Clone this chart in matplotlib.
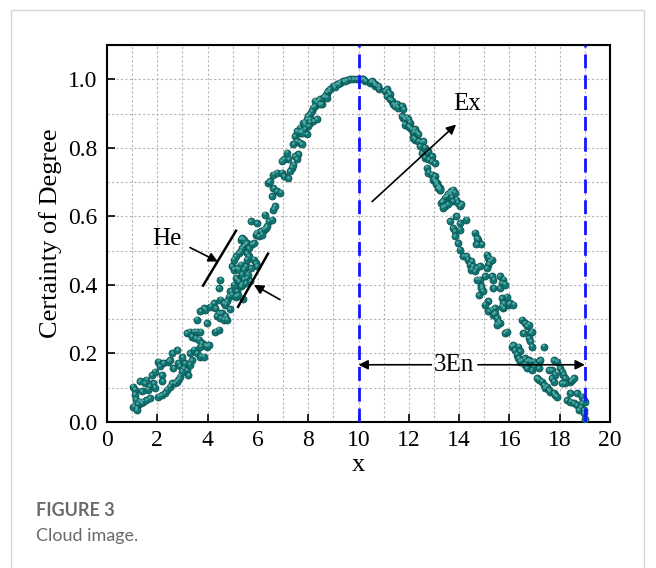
import matplotlib
matplotlib.use("Agg")
import matplotlib.pyplot as plt
from matplotlib.patches import Rectangle
from matplotlib.ticker import MultipleLocator
import numpy as np

# ---- data ----
rising = [
    (1.04,0.103),(1.11,0.094),(1.11,0.080),(1.17,0.040),(1.24,0.050),(1.31,0.059),(1.37,0.055),
    (1.44,0.059),(1.57,0.064),(1.71,0.069),(1.05,0.045),(1.15,0.065),(1.20,0.035),(1.51,0.113),
    (1.57,0.123),(1.71,0.103),(1.64,0.094),(1.77,0.137),(1.91,0.147),(1.84,0.113),(1.40,0.090),
    (2.04,0.074),(2.17,0.079),(2.31,0.084),(2.37,0.094),(2.51,0.103),(2.57,0.113),(2.71,0.113),
    (2.77,0.118),(2.84,0.123),(2.91,0.132),(2.11,0.162),(2.04,0.176),(2.24,0.172),(2.17,0.137),
    (2.44,0.176),(2.51,0.181),(2.64,0.157),(2.84,0.172),(2.91,0.162),(3.04,0.157),(3.17,0.152),
    (3.24,0.137),(2.97,0.147),(3.11,0.172),(3.31,0.167),(3.37,0.181),(3.31,0.201),(3.44,0.211),
    (3.57,0.201),(3.71,0.191),(3.84,0.191),(3.71,0.220),(3.77,0.230),(3.91,0.225),(3.97,0.220),
    (4.04,0.225),(3.17,0.259),(3.31,0.264),(3.44,0.264),(3.57,0.264),(3.71,0.264),(3.37,0.249),
    (3.51,0.245),(3.64,0.240),(3.57,0.298),(3.71,0.323),(3.84,0.332),(3.91,0.328),(3.97,0.289),
    (4.11,0.337),(4.24,0.347),(4.31,0.332),(4.37,0.308),(4.44,0.318),(4.51,0.303),(4.57,0.318),
    (4.64,0.298),(4.71,0.308),(4.77,0.298),(4.31,0.264),(4.44,0.269),(2.60,0.200),(2.80,0.210),
    (3.00,0.190),(1.30,0.120),(1.90,0.100),(2.20,0.120),
    (4.44,0.391),(4.51,0.415),(4.51,0.357),(4.64,0.347),(4.71,0.342),(4.77,0.352),(4.84,0.366),
    (4.91,0.381),(4.97,0.371),(5.11,0.366),(5.17,0.381),(5.04,0.401),(5.11,0.420),(5.17,0.415),
    (5.24,0.410),(5.31,0.396),(5.37,0.401),(5.44,0.415),(5.51,0.405),(5.57,0.420),(5.04,0.444),
    (4.97,0.454),(5.17,0.449),(5.24,0.444),(5.31,0.459),(5.37,0.430),(5.44,0.444),(5.51,0.454),
    (5.57,0.474),(5.64,0.483),(5.04,0.474),(5.11,0.483),(5.24,0.493),(5.31,0.498),(5.37,0.508),
    (5.44,0.513),(5.51,0.518),(5.57,0.522),(5.31,0.532),(5.37,0.537),(5.44,0.532),(5.57,0.493),
    (5.64,0.508),(5.84,0.474),(5.91,0.464),(5.97,0.454),(5.71,0.449),(5.77,0.518),(5.84,0.522),
    (5.91,0.547),(5.97,0.552),(6.04,0.542),(6.11,0.557),(6.24,0.561),(6.31,0.566),(6.37,0.571),
    (6.17,0.547),(5.71,0.586),(5.97,0.581),(6.44,0.586),(5.60,0.430),(5.20,0.370),(4.90,0.330),
    (5.40,0.360),(5.70,0.410),
    (6.29,0.605),(6.56,0.590),(6.62,0.620),(6.69,0.629),(6.56,0.659),(6.62,0.683),(6.75,0.673),
    (6.89,0.669),(6.42,0.698),(6.49,0.703),(6.62,0.722),(6.75,0.727),(6.95,0.727),(7.02,0.717),
    (7.21,0.712),(7.28,0.732),(7.35,0.742),(7.41,0.751),(7.21,0.766),(7.02,0.766),(6.95,0.761),
    (7.15,0.786),(7.48,0.776),(7.55,0.766),(7.61,0.781),(7.41,0.810),(7.48,0.834),(7.55,0.820),
    (7.68,0.815),(7.75,0.810),(7.68,0.844),(7.75,0.849),(7.88,0.854),(7.95,0.839),(8.01,0.864),
    (8.08,0.873),(8.21,0.878),(8.35,0.883),(7.88,0.873),
]

summit = [
    (7.54,0.849),(7.67,0.859),(7.81,0.873),(7.87,0.868),(7.94,0.883),(8.00,0.893),(8.07,0.898),
    (8.14,0.907),(8.20,0.917),(8.27,0.922),(8.34,0.932),(8.40,0.937),(8.47,0.942),(8.54,0.927),
    (8.60,0.946),(8.67,0.951),(8.74,0.961),(8.80,0.966),(8.87,0.971),(9.00,0.981),(9.14,0.985),
    (9.27,0.990),(9.40,0.995),(9.54,0.998),(9.67,1.000),(9.80,1.000),(9.93,1.000),(10.00,1.000),
    (10.14,1.000),(10.27,0.995),(10.47,0.990),(10.67,0.981),(10.80,0.971),(8.27,0.937),
    (8.47,0.927),(8.74,0.946),(8.07,0.883),(7.74,0.844),(9.07,0.976),(9.20,0.985),(9.47,0.995),
    (10.19,1.000),(10.52,0.995),(10.59,0.990),(10.65,0.985),(10.79,0.980),
]

falling = [
    (11.05,0.966),(11.12,0.971),(11.19,0.961),(11.25,0.956),(11.12,0.951),(11.25,0.942),
    (11.32,0.937),(11.39,0.927),(11.45,0.922),(11.52,0.927),(11.58,0.917),(11.72,0.922),
    (11.78,0.912),(11.72,0.893),(11.78,0.888),(11.85,0.883),(11.92,0.888),(11.98,0.883),
    (12.05,0.873),(11.85,0.868),(11.98,0.863),(12.05,0.859),(12.12,0.854),(12.18,0.844),
    (12.25,0.854),(12.32,0.844),(12.38,0.839),(12.18,0.829),(12.25,0.824),(12.38,0.820),
    (12.52,0.815),(12.58,0.820),(12.45,0.805),(12.52,0.785),(12.65,0.800),(12.72,0.785),
    (12.78,0.790),(12.65,0.771),(12.78,0.766),(12.92,0.776),(12.92,0.761),(13.05,0.756),
    (12.72,0.742),(12.78,0.727),(12.92,0.722),(13.05,0.717),(12.98,0.707),(13.12,0.698),
    (13.18,0.688),(13.25,0.683),(13.25,0.678),(13.52,0.659),(13.65,0.663),
    (13.03,0.703),(13.10,0.693),(13.16,0.683),(13.23,0.678),(13.30,0.640),(13.36,0.645),
    (13.43,0.654),(13.50,0.659),(13.56,0.664),(13.63,0.669),(13.69,0.674),(13.76,0.678),
    (13.83,0.669),(13.69,0.654),(13.76,0.645),(13.89,0.649),(13.96,0.640),(14.03,0.630),
    (14.09,0.635),(13.43,0.630),(13.56,0.635),(13.36,0.625),(13.63,0.586),(13.89,0.601),
    (14.03,0.581),(14.29,0.590),(13.76,0.566),(13.83,0.557),(14.03,0.561),(13.83,0.542),
    (13.96,0.522),(14.03,0.503),(14.63,0.552),(14.76,0.532),(14.89,0.518),(14.69,0.518),
    (14.70,0.537),(14.17,0.483),(14.29,0.483),(14.36,0.474),(14.49,0.469),(14.43,0.459),
    (14.56,0.454),(14.49,0.444),(14.63,0.440),(14.69,0.449),(14.83,0.454),(15.09,0.488),
    (15.16,0.479),(15.23,0.469),(15.29,0.474),(15.16,0.459),(15.09,0.449),(15.03,0.425),
    (14.83,0.415),(14.89,0.396),(14.96,0.381),(14.89,0.391),(15.29,0.425),(15.36,0.415),
    (15.36,0.391),(15.63,0.425),(15.76,0.415),(15.69,0.405),(15.63,0.391),(15.83,0.401),
    (15.16,0.352),(15.69,0.362),(15.89,0.366),(15.96,0.342),(15.43,0.332),(15.76,0.332),
    (14.70,0.415),(14.80,0.370),
    (15.03,0.342),(15.16,0.323),(15.29,0.328),(15.36,0.313),(15.43,0.318),(15.49,0.303),
    (15.56,0.293),(15.63,0.289),(15.49,0.284),(15.69,0.337),(15.76,0.347),(16.03,0.347),
    (16.16,0.342),(15.83,0.259),(15.89,0.264),(16.49,0.298),(16.63,0.289),(16.69,0.279),
    (16.76,0.284),(16.56,0.259),(16.83,0.259),(16.89,0.264),(16.76,0.245),(16.83,0.235),
    (16.89,0.220),(17.36,0.220),(16.10,0.220),(16.16,0.225),(16.23,0.210),(16.36,0.220),
    (16.43,0.206),(16.29,0.196),(16.36,0.186),(16.43,0.176),(16.49,0.181),(16.63,0.186),
    (16.69,0.176),(16.76,0.181),(16.83,0.176),(16.96,0.176),(17.03,0.167),(17.16,0.176),
    (17.23,0.181),(16.63,0.167),(16.69,0.157),(16.89,0.152),(16.96,0.162),(17.16,0.157),
    (17.09,0.128),(17.16,0.123),(17.29,0.118),(17.36,0.108),(17.42,0.098),(17.49,0.103),
    (17.56,0.093),(17.62,0.088),(17.76,0.084),(17.82,0.079),(17.89,0.074),(17.69,0.128),
    (17.76,0.118),(17.82,0.138),(17.69,0.152),(17.56,0.152),(17.76,0.181),(17.89,0.176),
    (18.02,0.157),(18.09,0.147),(18.15,0.138),(18.22,0.128),(18.42,0.118),(18.49,0.123),
    (18.55,0.128),(18.22,0.113),(18.09,0.113),(18.29,0.064),(18.42,0.059),(18.55,0.054),
    (18.69,0.049),(18.82,0.044),(18.89,0.054),(18.95,0.064),(19.02,0.059),(18.89,0.074),
    (18.69,0.084),(18.42,0.084),(18.75,0.035),(18.95,0.035),(19.02,0.010),(18.95,0.025),
]

x_ticks = [0, 2, 4, 6, 8, 10, 12, 14, 16, 18, 20]
y_ticks = [0.0, 0.2, 0.4, 0.6, 0.8, 1.0]
Ex, En3_right = 10, 19

pts = np.array(rising + summit + falling)
cx, cy = pts[:, 0], pts[:, 1]

serif = "Liberation Serif"
fig = plt.figure(figsize=(6.56, 5.68), dpi=100)
ax = fig.add_axes([107/656, 1-422/568, (610-107)/656, (422-45)/568])

ax.set_xlim(0, 20)
ax.set_ylim(0, 1.1)
ax.xaxis.set_major_locator(MultipleLocator(2))
ax.xaxis.set_minor_locator(MultipleLocator(1))
ax.yaxis.set_major_locator(MultipleLocator(0.2))
ax.yaxis.set_minor_locator(MultipleLocator(0.1))
ax.grid(True, which="both", color="#b5b5b5", linestyle=(0, (2, 2)), linewidth=0.8, zorder=0)
ax.set_axisbelow(True)
ax.tick_params(which="major", direction="in", length=6, width=1.2, labelsize=17)
ax.tick_params(which="minor", length=0)
ax.set_xticks(x_ticks)
ax.set_yticks(y_ticks)
ax.set_xticklabels([str(t) for t in x_ticks], fontfamily=serif)
ax.set_yticklabels([f"{t:.1f}" for t in y_ticks], fontfamily=serif)
ax.tick_params(axis="x", pad=6)
ax.tick_params(axis="y", pad=7)
for s in ax.spines.values():
    s.set_linewidth(1.5)

ax.scatter(cx, cy, s=26, c="#107673", edgecolors="#0a4f4d", linewidths=0.5, zorder=3)
ax.scatter(cx - 0.03, cy + 0.004, s=4, c="#4fa8a3", linewidths=0, zorder=4)

for xv in (Ex, En3_right):
    ax.axvline(xv, color="#1414ff", linewidth=2, linestyle=(0, (5, 2.5)), zorder=5)

ax.set_xlabel("x", fontfamily=serif, fontsize=19, labelpad=2)
ax.set_ylabel("Certainty of Degree", fontfamily=serif, fontsize=19, labelpad=4)

ap = dict(arrowstyle="-|>", color="black", lw=1.2, mutation_scale=14, shrinkA=0, shrinkB=0)
# Ex
ax.annotate("", xy=(13.88, 0.868), xytext=(10.54, 0.643), arrowprops=ap, zorder=6)
ax.text(14.3, 0.927, "Ex", fontfamily=serif, fontsize=18, ha="center", va="center")
# He
ax.text(2.4, 0.535, "He", fontfamily=serif, fontsize=18, ha="center", va="center")
ax.annotate("", xy=(4.41, 0.468), xytext=(3.3, 0.509), arrowprops=ap, zorder=6)
ax.annotate("", xy=(5.84, 0.400), xytext=(6.88, 0.357), arrowprops=ap, zorder=6)
ax.plot([3.82, 5.13], [0.398, 0.558], color="black", lw=1.8, zorder=6)
ax.plot([5.21, 6.40], [0.336, 0.491], color="black", lw=1.8, zorder=6)
# 3En
ax.annotate("", xy=(10.0, 0.167), xytext=(12.9, 0.167), arrowprops=ap, zorder=6)
ax.annotate("", xy=(19.0, 0.167), xytext=(14.75, 0.167), arrowprops=ap, zorder=6)
ax.text(13.8, 0.167, "3En", fontfamily=serif, fontsize=18, ha="center", va="center", zorder=6)

# page frame and caption
fig.patches.append(Rectangle((11/656, -0.05), (644-11)/656, 1.05 - 10/568,
                             transform=fig.transFigure, fill=False,
                             edgecolor="#d4d4d4", linewidth=1.0))
fig.text(36/656, 1-510/568, "FIGURE 3", fontfamily="Lato", fontweight="bold",
         fontsize=13, color="#6a6a6a", va="center", ha="left")
fig.text(36/656, 1-536/568, "Cloud image.", fontfamily="Lato",
         fontsize=13, color="#6a6a6a", va="center", ha="left")

fig.savefig("out.png", dpi=100)
